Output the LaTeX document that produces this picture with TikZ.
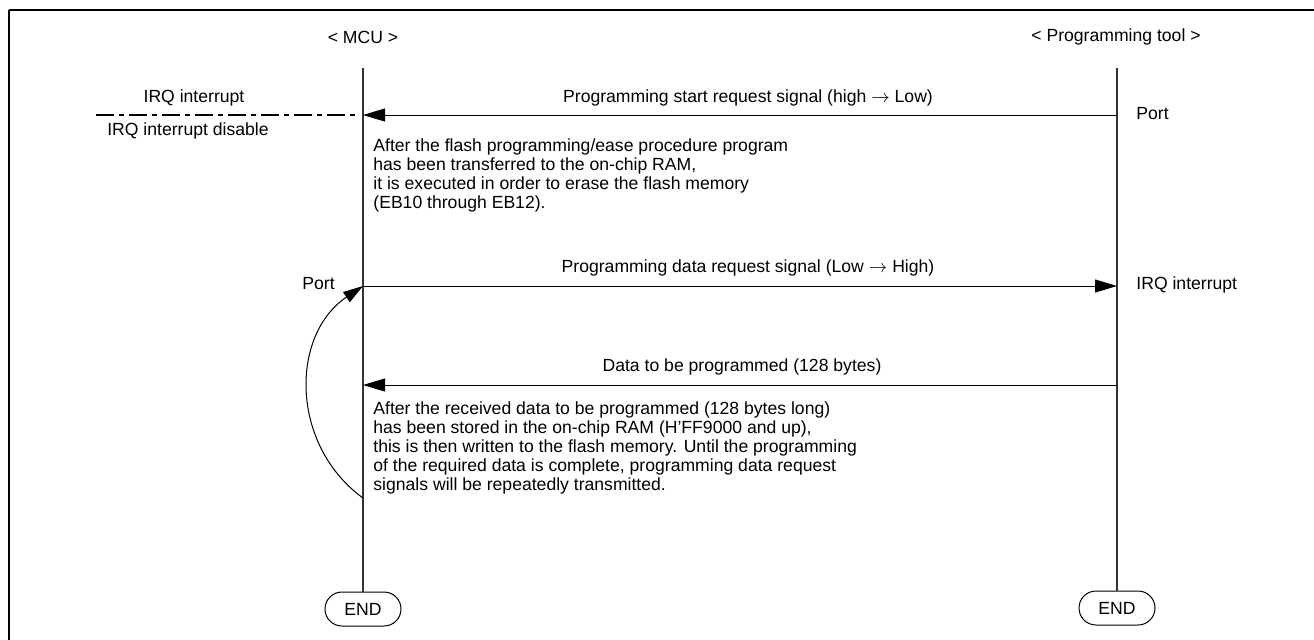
\documentclass[tikz,border=0pt]{standalone}
\usepackage{fontspec}
\setmainfont{Liberation Sans}
\usetikzlibrary{arrows.meta,shapes.misc}
\begin{document}
\begin{tikzpicture}[x=0.5pt,y=-0.5pt,
  txt/.style={inner sep=0pt,font=\fontsize{8.8}{9.5}\selectfont},
  para/.style={txt,anchor=north west,align=left},
  lifeline/.style={line width=0.6pt,draw=black!80},
  msg/.style={line width=0.5pt,-{Triangle[length=11pt,width=6.5pt]}},
  endnode/.style={draw,line width=0.5pt,rounded rectangle,minimum width=38pt,minimum height=17pt,inner sep=0pt,font=\fontsize{8.8}{9.5}\selectfont},
  frame/.style={line width=1.3pt}]
\useasboundingbox (0,0) rectangle (1314,639);
\draw[frame] (9,10) -- (1330,10);
\draw[frame] (9,10) -- (9,650);
% headers
\node[txt] (mcu) at (363,37) {< MCU >};
\node[txt] (tool) at (1116,37) {< Programming tool >};
% end nodes
\node[endnode] (endm) at (363,609) {END};
\node[endnode] (endt) at (1117,608) {END};
\coordinate (mtop) at (363,68);
\coordinate (ttop) at (1117,68);
\draw[lifeline] (mtop) -- (endm.north);
\draw[lifeline] (ttop) -- (endt.north);
% message points
\coordinate (t1) at (1117,115);
\coordinate (m1) at (363,115);
\coordinate (m2) at (363,286);
\coordinate (t2) at (1117,286);
\coordinate (t3) at (1117,385);
\coordinate (m3) at (363,385);
\coordinate (mloop) at (363,498);
\coordinate (irqL) at (96,115);
\coordinate (irqR) at (358,115);
% arrows
\draw[msg] (t1) -- (m1);
\draw[msg] (m2) -- (t2);
\draw[msg] (t3) -- (m3);
\draw[line width=1.4pt,dash pattern=on 9pt off 2.5pt on 2.5pt off 2.5pt] (irqL) -- (irqR);
\draw[line width=0.5pt,-{Triangle[length=10pt,width=6pt]}] (mloop) .. controls (290,445) and (290,335) .. (m2);
% labels
\node[txt] (l1) at (748,98) {Programming start request signal (high $\rightarrow$ Low)};
\node[txt] (l2) at (748,268) {Programming data request signal (Low $\rightarrow$ High)};
\node[txt] (l3) at (742,367) {Data to be programmed (128 bytes)};
\node[txt] (irq1) at (194,98) {IRQ interrupt};
\node[txt] (irq2) at (188,131) {IRQ interrupt disable};
\node[txt,anchor=west] (portT) at (1136,114) {Port};
\node[txt,anchor=west] (irqT) at (1136,285) {IRQ interrupt};
\node[txt,anchor=west] (portM) at (302,284) {Port};
\node[para] (p1) at (373,138) {After the flash programming/ease procedure program\\has been transferred to the on-chip RAM,\\it is executed in order to erase the flash memory\\(EB10 through EB12).};
\node[para] (p2) at (373,401) {After the received data to be programmed (128 bytes long)\\has been stored in the on-chip RAM (H'FF9000 and up),\\this is then written to the flash memory. Until the programming\\of the required data is complete, programming data request\\signals will be repeatedly transmitted.};
\end{tikzpicture}
\end{document}
